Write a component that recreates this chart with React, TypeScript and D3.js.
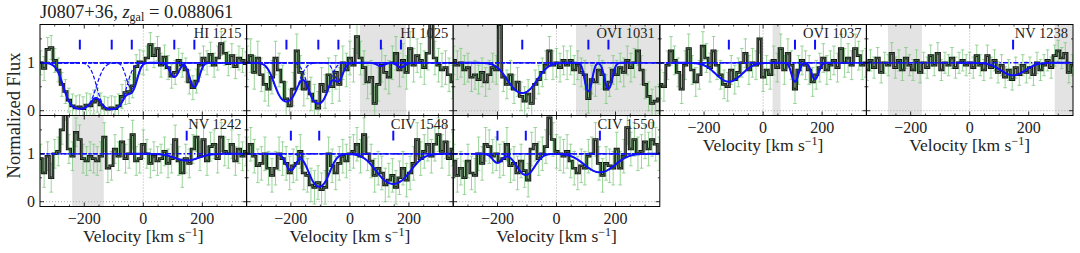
import React from 'react';
import * as d3 from 'd3';

// bin centres (km/s), 12 km/s bins
const velocity = d3.range(-348, 349, 12);

// normalized flux per bin
const hi1215Flux = [1.00, 0.88, 1.28, 1.32, 1.05, 0.85, 0.55, 0.40, 0.22, 0.10, 0.06, 0.08, 0.04, 0.12, 0.10, 0.18, 0.22, 0.12, 0.05, 0.03, 0.06, 0.04, 0.10, 0.30, 0.38, 0.40, 0.52, 0.92, 1.02, 1.00, 1.10, 1.38, 1.15, 1.30, 0.95, 1.12, 0.90, 0.72, 0.80, 1.05, 0.95, 0.85, 0.60, 0.48, 0.62, 0.95, 1.10, 1.00, 1.18, 0.95, 1.10, 1.40, 1.20, 0.98, 1.15, 0.92, 1.10, 1.05, 0.98];
const hi1025Flux = [1.00, 1.15, 0.80, 1.10, 0.75, 0.55, 0.45, 0.70, 1.10, 0.85, 0.60, 0.25, 0.10, 0.45, 1.25, 0.80, 0.45, 0.60, 0.35, 0.20, 0.05, 0.55, 0.40, 0.75, 0.50, 0.80, 0.55, 1.00, 0.85, 1.10, 0.95, 1.55, 1.10, 0.90, 0.60, 0.70, 0.15, 0.55, 0.95, 0.80, 0.70, 1.00, 1.20, 0.85, 1.05, 0.80, 1.30, 0.95, 1.15, 1.05, 0.90, 1.20, 1.85, 1.10, 0.95, 0.85, 0.90, 0.75, 0.60];
const ovi1031Flux = [1.05, 0.95, 1.00, 0.85, 0.90, 0.70, 0.75, 0.65, 0.80, 0.60, 0.75, 0.90, 0.85, 1.80, 0.70, 0.55, 0.75, 0.45, 0.60, 0.30, 0.20, 0.35, 0.15, 0.55, 0.65, 0.80, 0.95, 1.25, 0.95, 1.00, 0.90, 1.05, 0.95, 1.05, 0.85, 0.95, 0.80, 0.75, 0.25, 0.65, 0.60, 0.85, 0.75, 0.45, 0.60, 0.85, 0.75, 0.90, 0.80, 1.05, 0.90, 1.00, 1.25, 0.85, 0.55, 0.30, 0.15, 0.20, 0.25];
const ovi1037Flux = [0.55, 0.50, 0.95, 1.25, 1.05, 0.80, 0.45, 0.95, 1.30, 0.85, 0.60, 0.75, 1.35, 1.10, 0.90, 1.25, 0.95, 0.75, 0.55, 0.50, 0.85, 0.65, 0.80, 1.00, 1.20, 0.85, 1.00, 0.95, 1.50, 0.70, 0.85, 0.75, 1.05, 0.90, 1.30, 0.85, 1.20, 0.95, 0.45, 0.85, 1.05, 0.95, 0.85, 0.60, 0.75, 0.90, 1.10, 0.85, 0.95, 1.05, 0.90, 1.30, 1.00, 1.10, 0.95, 1.30, 1.15, 0.95, 1.00];
const nv1238Flux = [0.85, 1.05, 0.90, 1.10, 0.80, 1.00, 0.95, 1.20, 0.90, 1.05, 0.85, 1.10, 0.95, 0.85, 1.05, 0.80, 1.00, 0.90, 1.15, 0.95, 1.20, 0.85, 1.00, 0.95, 1.10, 0.90, 1.00, 1.05, 0.95, 1.00, 0.90, 1.15, 0.95, 0.85, 1.15, 0.90, 1.05, 0.80, 0.95, 0.70, 0.85, 0.65, 0.90, 0.75, 0.95, 0.80, 0.90, 0.75, 1.00, 0.85, 0.95, 1.05, 0.90, 1.15, 1.25, 1.10, 1.20, 0.80, 0.95];
const nv1242Flux = [0.90, 0.60, 0.95, 0.50, 1.00, 1.05, 1.50, 2.00, 1.10, 0.95, 1.45, 1.30, 0.90, 0.85, 0.95, 0.90, 0.85, 0.95, 1.35, 0.70, 0.75, 1.10, 0.95, 1.25, 0.90, 1.00, 1.40, 0.85, 0.90, 1.20, 1.00, 0.80, 0.95, 0.85, 0.90, 1.05, 0.80, 0.90, 1.30, 0.85, 0.60, 0.90, 0.80, 1.10, 1.35, 0.95, 1.30, 0.85, 1.15, 1.20, 0.90, 1.35, 1.05, 1.00, 1.20, 0.85, 1.10, 0.95, 1.05];
const civ1548Flux = [1.00, 1.20, 0.95, 0.75, 0.80, 1.00, 0.70, 0.55, 0.70, 1.00, 0.90, 0.80, 0.60, 0.75, 0.80, 1.05, 0.60, 0.55, 0.35, 0.30, 0.40, 0.25, 0.30, 1.00, 0.75, 0.60, 0.80, 0.95, 0.85, 1.00, 1.05, 1.20, 0.95, 1.40, 1.00, 0.85, 0.55, 0.70, 0.60, 0.35, 0.45, 0.55, 0.30, 0.50, 0.70, 0.45, 0.60, 0.80, 1.30, 0.90, 1.05, 1.20, 0.95, 1.20, 1.40, 1.05, 1.25, 0.90, 1.10];
const civ1550Flux = [0.85, 0.55, 0.70, 0.50, 0.85, 0.60, 0.55, 1.00, 0.80, 1.20, 1.15, 0.95, 1.00, 0.85, 0.90, 1.20, 0.75, 0.80, 0.60, 0.85, 0.65, 0.45, 1.10, 1.20, 0.90, 1.00, 1.15, 1.75, 1.30, 1.05, 1.00, 0.95, 1.05, 0.85, 0.70, 0.60, 0.75, 0.70, 0.95, 1.00, 1.30, 0.80, 0.55, 0.80, 0.75, 0.70, 1.10, 0.70, 0.95, 1.55, 1.10, 1.30, 1.00, 1.05, 1.25, 1.10, 1.30, 1.20, 1.00];

// fitted components: [centre km/s, b km/s, optical depth at centre]
const hi1215Comps = [[-215, 45, 3.2], [-107, 40, 3.5], [-39, 22, 0.78], [105, 20, 0.35], [173, 20, 0.7]];
const hi1025Comps = [[-215, 40, 1.65], [-107, 35, 1.9], [-39, 20, 0.45], [105, 18, 0.07], [173, 18, 0.1]];
const ovi1031Comps = [[-116, 56, 1.0], [108, 15, 0.9], [176, 16, 0.78]];
const ovi1037Comps = [[-116, 56, 0.5], [108, 15, 0.5], [176, 16, 0.42]];
const nv1238Comps = [[147, 55, 0.3]];
const nv1242Comps = [[147, 55, 0.15]];
const civ1548Comps = [[-200, 22, 0.42], [-104, 38, 1.17], [147, 65, 0.99]];
const civ1550Comps = [[-200, 22, 0.21], [-104, 38, 0.58], [147, 65, 0.49]];

// masked (grey) velocity ranges
const hi1025Mask = [[34, 190]];
const ovi1031Mask = [[-350, -194], [66, 350]];
const ovi1037Mask = [[32, 59]];
const nv1238Mask = [[-277, -162], [288, 350]];
const nv1242Mask = [[-241, -134]];

const panels = [
  { label: 'HI 1215', row: 0, col: 0, flux: hi1215Flux, err: 0.25, comps: hi1215Comps, mask: [] },
  { label: 'HI 1025', row: 0, col: 1, flux: hi1025Flux, err: 0.35, comps: hi1025Comps, mask: hi1025Mask },
  { label: 'OVI 1031', row: 0, col: 2, flux: ovi1031Flux, err: 0.3, comps: ovi1031Comps, mask: ovi1031Mask },
  { label: 'OVI 1037', row: 0, col: 3, flux: ovi1037Flux, err: 0.3, comps: ovi1037Comps, mask: ovi1037Mask },
  { label: 'NV 1238', row: 0, col: 4, flux: nv1238Flux, err: 0.22, comps: nv1238Comps, mask: nv1238Mask },
  { label: 'NV 1242', row: 1, col: 0, flux: nv1242Flux, err: 0.3, comps: nv1242Comps, mask: nv1242Mask },
  { label: 'CIV 1548', row: 1, col: 1, flux: civ1548Flux, err: 0.35, comps: civ1548Comps, mask: [] },
  { label: 'CIV 1550', row: 1, col: 2, flux: civ1550Flux, err: 0.35, comps: civ1550Comps, mask: [] },
];

const majorX = [-200, 0, 200];
const minorX = [-300, -250, -150, -100, -50, 50, 100, 150, 250, 300];
const majorY = [0, 1];
const minorY = [0.5, 1.5];

const X0 = 40, PW = 206.6, Y0 = 24.5, PH = 91;
const FONT = '"Liberation Serif", "DejaVu Serif", serif';
const BLUE = '#1010ff';

const modelV = d3.range(-350, 350.5, 2);
const tau = (c, v) => c[2] * Math.exp(-Math.pow((v - c[0]) / c[1], 2));

function Panel({ p }) {
  const left = X0 + p.col * PW;
  const top = Y0 + p.row * PH;
  const x = d3.scaleLinear().domain([-350, 350]).range([left, left + PW]);
  const y = d3.scaleLinear().domain([-0.1, 1.8]).range([top + PH, top]);
  const clipId = `clip-${p.row}-${p.col}`;

  const pts = velocity.map((v, i) => [v, p.flux[i]]);
  const stepPts = [[-356, p.flux[0]], ...pts, [356, p.flux[p.flux.length - 1]]];
  const step = d3.line().x(d => x(d[0])).y(d => y(d[1])).curve(d3.curveStep);
  const smooth = d3.line().x(d => x(d[0])).y(d => y(d[1]));

  const vLo = d3.min(p.comps, c => c[0] - 3.5 * c[1]);
  const vHi = d3.max(p.comps, c => c[0] + 3.5 * c[1]);
  const total = modelV.filter(v => v >= vLo && v <= vHi)
    .map(v => [v, Math.exp(-d3.sum(p.comps, c => tau(c, v)))]);

  const showX = p.row === 1 || p.col >= 3;
  const cap = 1.8;

  return (
    <g>
      <defs>
        <clipPath id={clipId}>
          <rect x={left} y={top} width={PW} height={PH} />
        </clipPath>
      </defs>
      <g clipPath={`url(#${clipId})`}>
        {p.mask.map((m, i) => (
          <rect key={i} x={x(m[0])} y={top} width={x(m[1]) - x(m[0])} height={PH} fill="#e3e3e3" />
        ))}
        {pts.map((d, i) => (
          <g key={i} stroke="#7cc87c" strokeWidth={0.9} opacity={0.85}>
            <line x1={x(d[0])} x2={x(d[0])} y1={y(d[1] - p.err)} y2={y(d[1] + p.err)} />
            <line x1={x(d[0]) - cap} x2={x(d[0]) + cap} y1={y(d[1] - p.err)} y2={y(d[1] - p.err)} />
            <line x1={x(d[0]) - cap} x2={x(d[0]) + cap} y1={y(d[1] + p.err)} y2={y(d[1] + p.err)} />
          </g>
        ))}
        <line x1={left} x2={left + PW} y1={y(0)} y2={y(0)} stroke="#999" strokeWidth={0.8} strokeDasharray="1,2" />
        <line x1={x(0)} x2={x(0)} y1={top} y2={top + PH} stroke="#999" strokeWidth={0.8} strokeDasharray="1,2" />
        <path d={step(stepPts)} fill="none" stroke="#111" strokeWidth={2.6} />
        <path d={step(stepPts)} fill="none" stroke="#4d6e4d" strokeWidth={0.9} />
        <line x1={left} x2={left + PW} y1={y(1)} y2={y(1)} stroke={BLUE} strokeWidth={1.4} strokeDasharray="5,2,1.5,2" />
        {p.comps.map((c, i) => (
          <path key={i} d={smooth(modelV.map(v => [v, Math.exp(-tau(c, v))]))}
            fill="none" stroke={BLUE} strokeWidth={1.2} strokeDasharray="4,2" />
        ))}
        <path d={smooth(total)} fill="none" stroke={BLUE} strokeWidth={2} />
        {p.comps.map((c, i) => (
          <line key={i} x1={x(c[0])} x2={x(c[0])} y1={y(1.28)} y2={y(1.48)} stroke={BLUE} strokeWidth={2} />
        ))}
      </g>
      <text x={left + PW - 5} y={top + 13} textAnchor="end" fontFamily={FONT} fontSize={14.5} fill="#222">{p.label}</text>
      <rect x={left} y={top} width={PW} height={PH} fill="none" stroke="#000" strokeWidth={1} />
      {majorX.map(t => (
        <g key={t} stroke="#000" strokeWidth={0.8}>
          <line x1={x(t)} x2={x(t)} y1={top + PH} y2={top + PH - 4} />
          <line x1={x(t)} x2={x(t)} y1={top} y2={top + 4} />
        </g>
      ))}
      {minorX.map(t => (
        <g key={t} stroke="#000" strokeWidth={0.7}>
          <line x1={x(t)} x2={x(t)} y1={top + PH} y2={top + PH - 2} />
          <line x1={x(t)} x2={x(t)} y1={top} y2={top + 2} />
        </g>
      ))}
      {majorY.map(t => (
        <g key={t} stroke="#000" strokeWidth={0.8}>
          <line x1={left} x2={left + 4} y1={y(t)} y2={y(t)} />
          <line x1={left + PW} x2={left + PW - 4} y1={y(t)} y2={y(t)} />
        </g>
      ))}
      {minorY.map(t => (
        <g key={t} stroke="#000" strokeWidth={0.7}>
          <line x1={left} x2={left + 2} y1={y(t)} y2={y(t)} />
          <line x1={left + PW} x2={left + PW - 2} y1={y(t)} y2={y(t)} />
        </g>
      ))}
      {p.col === 0 && majorY.map(t => (
        <text key={t} x={left - 5} y={y(t) + 5.5} textAnchor="end" fontFamily={FONT} fontSize={16} fill="#222">{t}</text>
      ))}
      {showX && majorX.map(t => (
        <text key={t} x={x(t)} y={top + PH + 17} textAnchor="middle" fontFamily={FONT} fontSize={16} fill="#222">
          {t < 0 ? `\u2212${Math.abs(t)}` : t}
        </text>
      ))}
      {showX && (
        <text x={left + PW / 2} y={top + PH + 35} textAnchor="middle" fontFamily={FONT} fontSize={17.5} fill="#222">
          Velocity [km s<tspan dy={-6} fontSize={12}>{'\u22121'}</tspan><tspan dy={6}>]</tspan>
        </text>
      )}
    </g>
  );
}

export default function App() {
  return (
    <svg width={1080} height={253} style={{ position: 'absolute', left: 0, top: 0, background: '#fff' }}>
      <rect width={1080} height={253} fill="#fff" />
      {panels.map(p => <Panel key={p.label} p={p} />)}
      <text x={40} y={18} fontFamily={FONT} fontSize={18.5} fill="#222">
        J0807+36, <tspan fontStyle="italic">z</tspan><tspan dy={3} fontSize={12}>gal</tspan><tspan dy={-3}> = 0.088061</tspan>
      </text>
      <text transform={`translate(20,${Y0 + PH})rotate(-90)`} textAnchor="middle" fontFamily={FONT} fontSize={18.5} fill="#222">
        Normalized Flux
      </text>
    </svg>
  );
}
